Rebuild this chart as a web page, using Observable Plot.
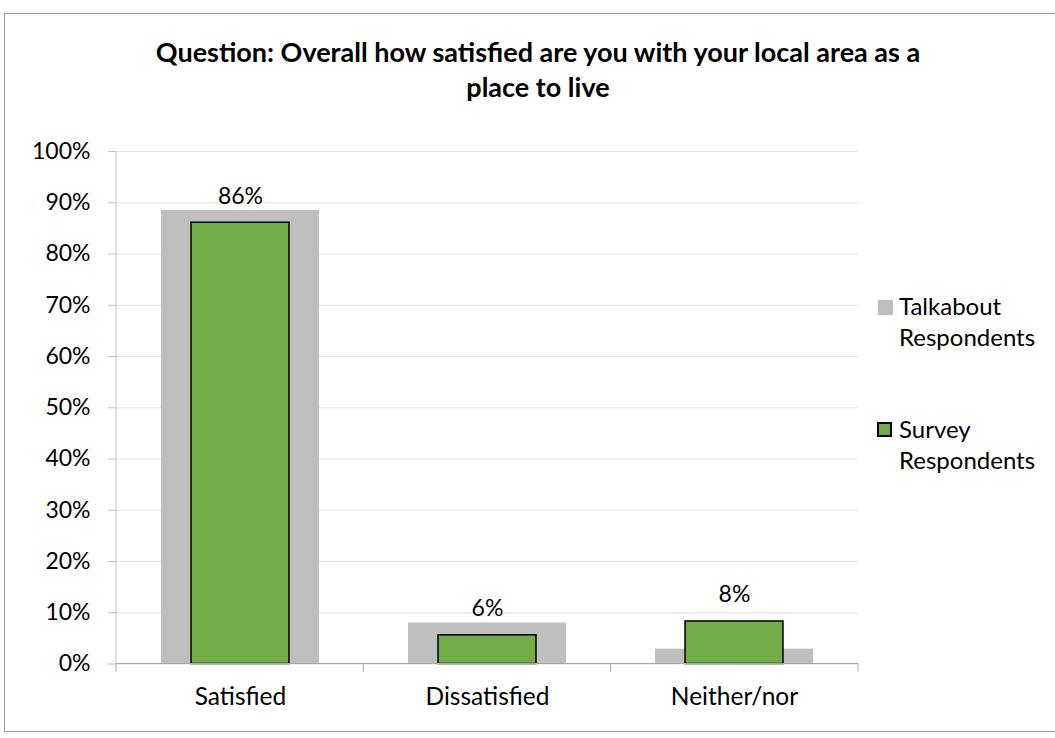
<!DOCTYPE html>
<html>
<head>
<meta charset="utf-8">
<script src="https://cdn.jsdelivr.net/npm/d3@7"></script>
<script src="https://cdn.jsdelivr.net/npm/@observablehq/plot@0.6"></script>
<style>
  body { margin: 0; background: #fff; font-family: Lato, "Open Sans", sans-serif; }
  #wrap { position: relative; width: 1055px; height: 738px; overflow: hidden; }
  #frame { position: absolute; left: 4px; top: 13px; width: 1070px; height: 719px; border: 1px solid #a0a0a0; box-sizing: border-box; }
  #title { position: absolute; left: 0; top: 34px; width: 1076px; text-align: center; font-weight: bold; font-size: 27px; line-height: 35px; color: #000; }
  #chart { position: absolute; left: 0; top: 130px; }
  .leg { position: absolute; left: 899px; font-size: 24px; line-height: 31px; color: #000; }
  .sw { position: absolute; width: 15px; height: 15px; box-sizing: border-box; }
</style>
</head>
<body>
<div id="wrap">
  <div id="frame"></div>
  <div id="title">Question: Overall how satisfied are you with your local area as a<br>place to live</div>
  <div id="chart"></div>
  <div class="sw" style="left:878px;top:300px;background:#bfbfbf;"></div>
  <div class="leg" style="top:290px;">Talkabout<br>Respondents</div>
  <div class="sw" style="left:877px;top:422px;background:#70ad47;border:2px solid #000;"></div>
  <div class="leg" style="top:413px;">Survey<br>Respondents</div>
</div>
<script>
const categories = ["Satisfied", "Dissatisfied", "Neither/nor"];
const talkabout = [88.5, 8.0, 2.9];
const survey = [86.1, 5.6, 8.3];
const surveyLabels = ["86%", "6%", "8%"];
const yTicks = [0, 10, 20, 30, 40, 50, 60, 70, 80, 90, 100];

const talkData = categories.map((c, i) => ({category: c, value: talkabout[i]}));
const surveyData = categories.map((c, i) => ({category: c, value: survey[i], label: surveyLabels[i]}));

function axisLines(index, scales, values, dims) {
  const {y} = scales;
  const left = dims.marginLeft, right = dims.width - dims.marginRight;
  const g = d3.create("svg:g");
  g.append("line").attr("x1", left).attr("x2", left).attr("y1", y(0)).attr("y2", y(100))
    .attr("stroke", "#c8c8c8").attr("stroke-width", 1);
  g.append("line").attr("x1", left).attr("x2", right).attr("y1", y(0)).attr("y2", y(0))
    .attr("stroke", "#a6a6a6").attr("stroke-width", 1);
  const step = (right - left) / categories.length;
  for (let i = 0; i <= categories.length; i++) {
    const xx = left + i * step;
    g.append("line").attr("x1", xx).attr("x2", xx).attr("y1", y(0)).attr("y2", y(0) + 8)
      .attr("stroke", "#a6a6a6").attr("stroke-width", 1);
  }
  return g.node();
}

const plot = Plot.plot({
  width: 1055,
  height: 608,
  marginTop: 21,
  marginBottom: 74.5,
  marginLeft: 116,
  marginRight: 197,
  style: {fontFamily: "Lato, 'Open Sans', sans-serif", fontSize: "23px", color: "#000", background: "transparent"},
  x: {domain: categories, paddingInner: 0.36, paddingOuter: 0.18, label: null},
  y: {domain: [0, 100], label: null},
  marks: [
    Plot.gridY(yTicks, {stroke: "#e4e4e4", strokeOpacity: 1}),
    Plot.barY(talkData, {x: "category", y: "value", fill: "#bfbfbf"}),
    Plot.barY(surveyData, {x: "category", y: "value", fill: "#70ad47", stroke: "#000", strokeWidth: 1.5, insetLeft: 30, insetRight: 30}),
    Plot.text(surveyData, {x: "category", y: "value", text: "label", lineAnchor: "bottom", dy: -19, fontSize: 23, fill: "#000"}),
    axisLines,
    Plot.axisY(yTicks, {tickSize: 8, tickPadding: 18, stroke: "#bfbfbf", fill: "#000", fontSize: 23, tickFormat: d => d + "%", label: null}),
    Plot.axisX({tickSize: 0, tickPadding: 24, fontSize: 24.5, fill: "#000", label: null})
  ]
});
document.getElementById("chart").appendChild(plot);
</script>
</body>
</html>
